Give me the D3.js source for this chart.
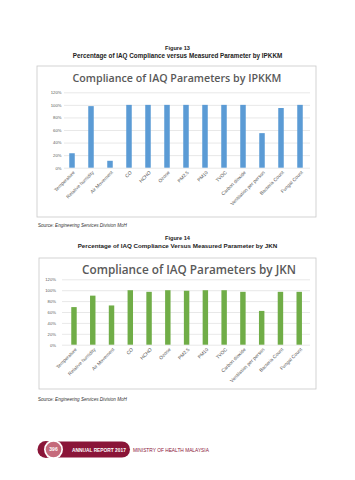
<!DOCTYPE html>
<html>
<head>
<meta charset="utf-8">
<script src="https://cdn.jsdelivr.net/npm/d3@7"></script>
<style>
  html, body { margin: 0; padding: 0; background: #fff; }
  svg { display: block; }
</style>
</head>
<body>
<svg id="page" width="355" height="480"></svg>
<script>
// ---- data ----
const categories = ["Temperature", "Relative humidity", "Air Movement", "CO", "HCHO", "Ozone",
  "PM2.5", "PM10", "TVOC", "Carbon dioxide", "Ventilation per person", "Bacteria Count", "Fungal Count"];
const ipkkmValues = [23, 98, 11, 100, 100, 100, 100, 100, 100, 100, 55, 95, 100];
const jknValues = [69, 90, 72, 100, 97, 100, 99, 100, 100, 97, 62, 97, 97];
const yTicks = [0, 20, 40, 60, 80, 100, 120];
const yMax = 120;

const svg = d3.select("#page");
svg.append("rect").attr("width", 355).attr("height", 480).attr("fill", "#fff");

function fit(sel, target) {
  const w = sel.node().getComputedTextLength();
  const fs = parseFloat(sel.attr("font-size"));
  if (w > 0) sel.attr("font-size", (fs * target / w).toFixed(3));
  return sel;
}

function heading(cx, y1, t1, y2, t2, w1, w2) {
  fit(svg.append("text").attr("x", cx).attr("y", y1).attr("text-anchor", "middle")
    .attr("font-family", "Liberation Sans, Arial, sans-serif").attr("font-weight", "bold")
    .attr("font-size", 6).attr("fill", "#222").text(t1), w1);
  fit(svg.append("text").attr("x", cx).attr("y", y2).attr("text-anchor", "middle")
    .attr("font-family", "Liberation Sans, Arial, sans-serif").attr("font-weight", "bold")
    .attr("font-size", 6).attr("fill", "#222").text(t2), w2);
}

function source(x, y) {
  const t = svg.append("text").attr("x", x).attr("y", y)
    .attr("font-family", "Liberation Sans, Arial, sans-serif").attr("font-size", 4.6).attr("fill", "#333");
  t.append("tspan").text("Source: ");
  t.append("tspan").attr("font-style", "italic").text("Engineering Services Division MoH");
}

function drawChart(cfg) {
  const g = svg.append("g");
  g.append("rect").attr("x", cfg.box[0]).attr("y", cfg.box[1]).attr("width", cfg.box[2]).attr("height", cfg.box[3])
    .attr("fill", "#fff").attr("stroke", "#c8c8c8").attr("stroke-width", 0.8);

  fit(g.append("text").attr("x", cfg.titleX).attr("y", cfg.titleY).attr("text-anchor", "middle")
    .attr("font-family", "'Open Sans', 'Noto Sans', sans-serif").attr("font-weight", 600)
    .attr("font-size", 11).attr("fill", "#595959").text(cfg.title), cfg.titleW);

  const x = d3.scaleBand().domain(categories).range(cfg.xRange).paddingInner(0.71).paddingOuter(0.355);
  const y = d3.scaleLinear().domain([0, yMax]).range([cfg.y0, cfg.yTop]);

  // gridlines
  const grid = g.append("g").attr("transform", `translate(${cfg.gridX0},0)`)
    .call(d3.axisLeft(y).tickValues(yTicks).tickSize(-(cfg.gridX1 - cfg.gridX0)).tickFormat(""));
  grid.select(".domain").remove();
  grid.selectAll("line").attr("stroke", "#d9d9d9").attr("stroke-width", 0.6);

  // y labels
  const ya = g.append("g").attr("transform", `translate(${cfg.yLabelX},0)`)
    .call(d3.axisLeft(y).tickValues(yTicks).tickSize(0).tickPadding(0).tickFormat(d => d + "%"));
  ya.select(".domain").remove();
  ya.selectAll("text").attr("font-family", "Liberation Sans, Arial, sans-serif")
    .attr("font-size", cfg.tickFs).attr("fill", "#595959");

  // bars
  g.selectAll(".bar").data(cfg.values).join("rect")
    .attr("x", (d, i) => x(categories[i]))
    .attr("width", x.bandwidth())
    .attr("y", d => y(d))
    .attr("height", d => y(0) - y(d))
    .attr("fill", cfg.color);

  // x labels
  const xa = g.append("g").attr("transform", `translate(0,${cfg.y0})`)
    .call(d3.axisBottom(x).tickSize(0).tickPadding(0));
  xa.select(".domain").remove();
  xa.selectAll("text")
    .attr("font-family", "Liberation Sans, Arial, sans-serif")
    .attr("font-size", cfg.catFs).attr("fill", "#595959")
    .attr("text-anchor", "end")
    .attr("dy", "0.35em").attr("y", 0)
    .attr("transform", `translate(2,4) rotate(-45)`);
}

heading(177.5, 50, "Figure 13", 58, "Percentage of IAQ Compliance versus  Measured Parameter by IPKKM", 25, 210);
drawChart({
  box: [37, 66, 279, 151], title: "Compliance of IAQ Parameters by IPKKM",
  titleX: 177, titleY: 81.5, titleW: 209,
  xRange: [62.5, 309.5], yTop: 92.3, y0: 167.7, gridX0: 64, gridX1: 310, yLabelX: 61.5,
  values: ipkkmValues, color: "#5b9bd5", tickFs: 4.2, catFs: 4.8
});
source(38, 227);

heading(177.5, 239.5, "Figure 14", 247.5, "Percentage of IAQ Compliance Versus Measured Parameter by JKN", 25, 200);
drawChart({
  box: [39, 258, 277, 131], title: "Compliance of IAQ Parameters by JKN",
  titleX: 189, titleY: 273.5, titleW: 214,
  xRange: [64.6, 308.6], yTop: 279.3, y0: 344.7, gridX0: 62, gridX1: 310, yLabelX: 56,
  values: jknValues, color: "#70ad47", tickFs: 4.2, catFs: 4.8
});
source(38, 401);

// footer
const maroon = "#8a1538";
const f = svg.append("g");
f.append("rect").attr("x", 46).attr("y", 441.5).attr("width", 84).attr("height", 16).attr("rx", 8).attr("fill", maroon);
f.append("circle").attr("cx", 46).attr("cy", 449.5).attr("r", 8.5).attr("fill", maroon);
f.append("circle").attr("cx", 53.5).attr("cy", 449.5).attr("r", 9.5).attr("fill", "#fff");
f.append("circle").attr("cx", 53.5).attr("cy", 449.5).attr("r", 7.8).attr("fill", "#c56a7b");
f.append("text").attr("x", 53.5).attr("y", 451.3).attr("text-anchor", "middle")
  .attr("font-family", "Liberation Sans, Arial, sans-serif").attr("font-weight", "bold")
  .attr("font-size", 5).attr("fill", "#fff").text("396");
fit(f.append("text").attr("x", 72).attr("y", 451.5)
  .attr("font-family", "Liberation Sans Narrow, Liberation Sans, Arial, sans-serif").attr("font-weight", "bold")
  .attr("font-size", 5.5).attr("fill", "#fff").text("ANNUAL REPORT 2017"), 54);
fit(f.append("text").attr("x", 133).attr("y", 451.5)
  .attr("font-family", "Liberation Sans Narrow, Liberation Sans, Arial, sans-serif")
  .attr("font-size", 5.5).attr("fill", maroon).text("MINISTRY OF HEALTH MALAYSIA"), 76);
</script>
</body>
</html>
